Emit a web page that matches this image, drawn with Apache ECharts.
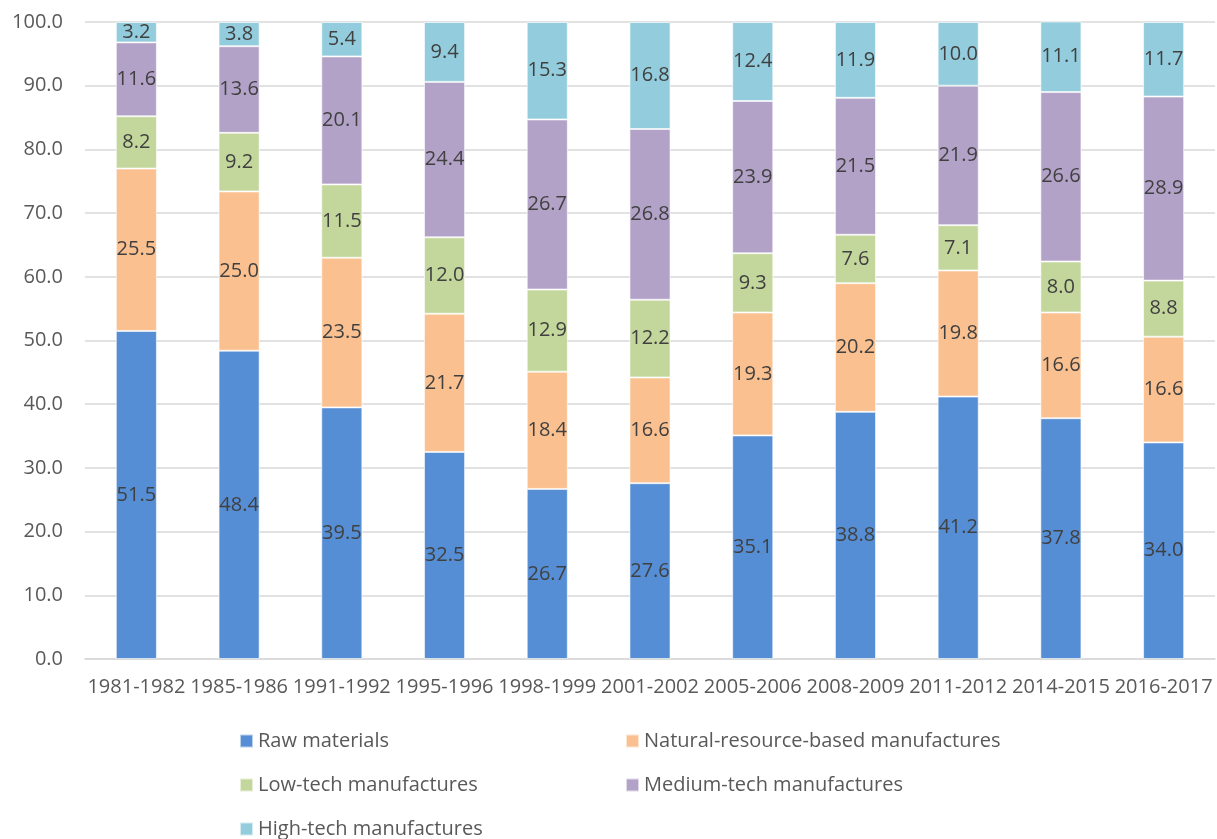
<!DOCTYPE html>
<html><head><meta charset="utf-8">
<script src="https://cdn.jsdelivr.net/npm/echarts@6/dist/echarts.min.js"></script>
<style>html,body{margin:0;padding:0;background:#fff}#c{width:1217px;height:839px}</style>
</head><body><div id="c"></div>
<script>
const categories = ["1981-1982","1985-1986","1991-1992","1995-1996","1998-1999","2001-2002","2005-2006","2008-2009","2011-2012","2014-2015","2016-2017"];
const seriesNames = ["Raw materials","Natural-resource-based manufactures","Low-tech manufactures","Medium-tech manufactures","High-tech manufactures"];
const rawMaterials = [51.5,48.4,39.5,32.5,26.7,27.6,35.1,38.8,41.2,37.8,34.0];
const naturalResource = [25.5,25.0,23.5,21.7,18.4,16.6,19.3,20.2,19.8,16.6,16.6];
const lowTech = [8.2,9.2,11.5,12.0,12.9,12.2,9.3,7.6,7.1,8.0,8.8];
const mediumTech = [11.6,13.6,20.1,24.4,26.7,26.8,23.9,21.5,21.9,26.6,28.9];
const highTech = [3.2,3.8,5.4,9.4,15.3,16.8,12.4,11.9,10.0,11.1,11.7];

const values = [rawMaterials, naturalResource, lowTech, mediumTech, highTech];
const colors = ["#558ED5","#FAC090","#C3D69B","#B3A2C7","#93CDDD"];
const FONT = "Open Sans";
const legendPos = [[234,726],[620,726],[234,770],[620,770],[234,814]];

const chart = echarts.init(document.getElementById('c'));
chart.setOption({
  animation:false,
  color: colors,
  textStyle:{fontFamily:FONT},
  grid:{left:85,right:2,top:22,bottom:180},
  legend: seriesNames.map((n,i)=>({
    data:[n], left:legendPos[i][0], top:legendPos[i][1],
    itemWidth:13, itemHeight:13, icon:'rect',
    textStyle:{fontFamily:FONT,fontSize:20,color:'#595959'}
  })),
  xAxis:{type:'category',data:categories,
    axisLine:{lineStyle:{color:'#D9D9D9',width:1.5}},
    axisTick:{show:false},
    axisLabel:{interval:0,fontFamily:FONT,fontSize:20,color:'#595959',margin:18}},
  yAxis:{type:'value',min:0,max:100,interval:10,
    axisLabel:{formatter:v=>v.toFixed(1),fontFamily:FONT,fontSize:20,color:'#595959',margin:22},
    splitLine:{lineStyle:{color:'#D9D9D9',width:1.5}},
    axisLine:{show:false},axisTick:{show:false}},
  series: seriesNames.map((n,i)=>({
    name:n,type:'bar',stack:'total',barWidth:'40%',data:values[i],
    itemStyle:{color:colors[i],borderColor:'rgba(255,255,255,0.6)',borderWidth:1},
    label:{show:true,position:'inside',formatter:p=>p.value.toFixed(1),
      fontFamily:FONT,fontSize:20,color:'#404040'}
  }))
});
</script></body></html>
